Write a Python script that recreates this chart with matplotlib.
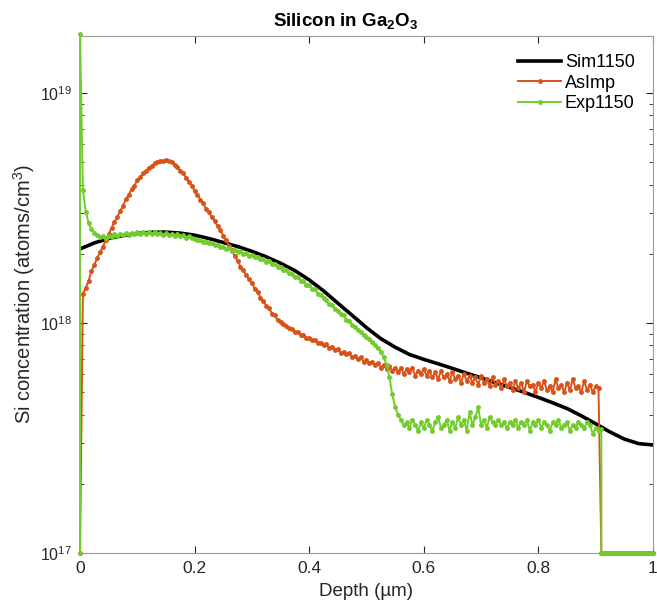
import matplotlib
matplotlib.use("Agg")
import matplotlib.pyplot as plt
import numpy as np

plt.rcParams['font.family'] = ['Liberation Sans', 'DejaVu Sans']
plt.rcParams['mathtext.fontset'] = 'custom'
plt.rcParams['mathtext.rm'] = 'Liberation Sans'
plt.rcParams['mathtext.bf'] = 'Liberation Sans:bold'

# Sim1150 (units of 1e17 atoms/cm3), depth step 0.025 um
sim_depth = [0.0, 0.025, 0.05, 0.075, 0.1, 0.125, 0.15, 0.175, 0.2, 0.225,
             0.25, 0.275, 0.3, 0.325, 0.35, 0.375, 0.4, 0.425, 0.45, 0.475,
             0.5, 0.525, 0.55, 0.575, 0.6, 0.625, 0.65, 0.675, 0.7, 0.725,
             0.75, 0.775, 0.8, 0.825, 0.85, 0.875, 0.9, 0.925, 0.95, 0.975, 1.0]
sim_val = [21.0, 22.3, 23.3, 24.0, 24.5, 24.8, 24.85, 24.6, 24.1, 23.3,
           22.4, 21.5, 20.5, 19.4, 18.2, 16.9, 15.4, 13.8, 12.2, 10.8,
           9.55, 8.55, 7.85, 7.3, 6.95, 6.65, 6.35, 6.05, 5.78, 5.5,
           5.25, 5.0, 4.75, 4.5, 4.25, 3.95, 3.65, 3.36, 3.13, 2.99, 2.95]

# AsImp, depth step 0.005 um starting at 0
asimp_val = [1.0, 13.4, 14.2, 15.3, 16.8, 17.9, 19.2, 20.3, 21.5, 22.9,
             24.3, 25.9, 27.6, 28.8, 30.7, 32.2, 34.6, 36.1, 38.2, 39.6,
             41.8, 43.0, 44.9, 45.8, 47.4, 48.1, 49.5, 49.9, 50.8, 50.6,
             51.2, 50.4, 50.1, 48.8, 47.9, 46.0, 44.8, 42.9, 41.2, 39.5,
             37.6, 36.2, 34.4, 33.1, 31.4, 30.3, 28.8, 27.9, 26.3, 25.4,
             24.0, 22.9, 21.6, 20.7, 19.5, 18.7, 17.6, 17.0, 16.1, 15.5,
             14.9, 14.1, 13.6, 12.9, 12.5, 11.9, 11.6, 11.0, 10.8, 10.3,
             10.1, 9.9, 9.7, 9.5, 9.4, 9.1, 9.1, 8.9, 8.9, 8.6,
             8.6, 8.4, 8.4, 8.2, 8.2, 8.0, 8.1, 7.8, 7.9, 7.6,
             7.7, 7.4, 7.5, 7.3, 7.4, 7.1, 7.2, 7.0, 7.1, 6.8,
             6.9, 6.7, 6.8, 6.6, 6.7, 6.4, 6.6, 6.3, 6.5, 6.2,
             6.4, 6.1, 6.4, 6.0, 6.3, 6.1, 6.4, 5.9, 6.2, 6.0,
             6.3, 5.9, 6.2, 5.8, 6.1, 5.7, 6.2, 5.8, 6.0, 5.6,
             6.1, 5.7, 5.9, 5.5, 6.0, 5.6, 5.9, 5.5, 5.8, 5.4,
             5.9, 5.5, 5.7, 5.3, 5.8, 5.4, 5.6, 5.2, 5.7, 5.3,
             5.5, 5.1, 5.6, 5.2, 5.5, 5.0, 5.6, 5.3, 5.4, 5.0,
             5.5, 5.2, 5.6, 5.1, 5.3, 5.0, 5.7, 5.2, 5.4, 5.0,
             5.5, 5.1, 5.7, 5.2, 5.3, 5.0, 5.6, 5.1, 5.4, 5.0,
             5.3, 5.2]

# Exp1150, depth step 0.005 um starting at 0
exp_val = [180.0, 38.0, 30.5, 27.2, 25.6, 24.6, 24.2, 23.7, 23.9, 23.5,
           24.0, 23.7, 24.3, 23.9, 24.4, 24.1, 24.6, 24.2, 24.7, 24.3,
           24.8, 24.4, 24.9, 24.5, 24.9, 24.3, 24.8, 24.4, 24.7, 24.1,
           24.6, 24.2, 24.5, 23.9, 24.3, 23.8, 24.1, 23.5, 23.8, 23.4,
           23.2, 23.0, 22.9, 22.6, 22.6, 22.2, 22.3, 21.8, 21.9, 21.4,
           21.5, 21.0, 21.1, 20.6, 20.8, 20.3, 20.5, 19.9, 20.1, 19.6,
           19.8, 19.3, 19.4, 18.9, 19.0, 18.5, 18.6, 18.0, 18.1, 17.5,
           17.6, 17.0, 17.0, 16.5, 16.4, 15.9, 15.8, 15.3, 15.2, 14.7,
           14.6, 14.1, 14.0, 13.4, 13.3, 12.8, 12.6, 12.1, 12.0, 11.5,
           11.3, 10.9, 10.8, 10.3, 10.2, 9.8, 9.6, 9.3, 9.1, 8.9,
           8.7, 8.5, 8.3, 8.0, 7.8, 7.5, 7.1, 6.6, 5.8, 4.9,
           4.3, 4.0, 3.8, 3.6, 3.7, 3.5, 3.8, 3.6, 3.4, 3.7,
           3.5, 3.8, 3.6, 3.4, 3.7, 3.9, 3.5, 3.6, 3.8, 3.4,
           3.7, 3.5, 3.9, 3.6, 3.8, 3.4, 4.1, 3.6, 3.9, 4.3,
           3.6, 3.8, 3.5, 3.9, 3.7, 3.6, 3.8, 3.6, 3.7, 3.5,
           3.7, 3.6, 3.8, 3.5, 3.7, 3.6, 3.8, 3.4, 3.7, 3.6,
           3.8, 3.5, 3.7, 3.6, 3.4, 3.7, 3.6, 3.8, 3.5, 3.6,
           3.7, 3.4, 3.6, 3.5, 3.7, 3.6, 3.5, 3.7, 3.6, 3.3,
           3.5, 3.4, 3.45]

# values past the end of the measured profiles sit at the axis floor
tail_depth = [0.91, 0.915, 0.92, 0.925, 0.93, 0.935, 0.94, 0.945, 0.95, 0.955,
              0.96, 0.965, 0.97, 0.975, 0.98, 0.985, 0.99, 0.995, 1.0]
tail_val = [1.0] * len(tail_depth)

asimp_depth = list(np.arange(len(asimp_val)) * 0.005)
exp_depth = list(np.arange(len(exp_val)) * 0.005)

orange = '#D95319'
green = '#72CC2C'
txt = '#262626'

fig = plt.figure(figsize=(6.57, 6.0), dpi=100)
ax = fig.add_axes([0.1218, 0.0783, 0.872, 0.8617])

scale = 1e17
ax.plot(sim_depth, np.array(sim_val) * scale, color='black', lw=2.6, label='Sim1150', zorder=2)
ax.plot(asimp_depth + tail_depth, np.array(asimp_val + tail_val) * scale, color=orange,
        lw=1.4, marker='.', ms=5, label='AsImp', zorder=3, clip_on=False)
# surface point of the measured profile starts at the floor too
ax.plot([0.0] + exp_depth + tail_depth, np.array([1.0] + exp_val + tail_val) * scale, color=green,
        lw=1.4, marker='.', ms=5, label='Exp1150', zorder=4, clip_on=False)

ax.set_yscale('log')
ax.set_xlim(0, 1)
ax.set_ylim(1e17, 1.77e19)
ax.set_xticks([0, 0.2, 0.4, 0.6, 0.8, 1])
ax.set_xticklabels(['0', '0.2', '0.4', '0.6', '0.8', '1'])
ax.set_yticks([1e17, 1e18, 1e19])
ax.tick_params(which='both', direction='in', top=True, right=True, colors=txt, pad=6)
ax.tick_params(axis='x', labelsize=12.5)
ax.tick_params(axis='y', labelsize=11.5)
ax.tick_params(which='major', length=5)
ax.tick_params(which='minor', length=3)
for s in ax.spines.values():
    s.set_color('#9a9a9a')
    s.set_linewidth(0.8)

ax.set_xlabel('Depth (µm)', fontsize=13.5, color=txt, labelpad=5)
ax.set_ylabel('Si concentration (atoms/cm$^3$)', fontsize=14.5, color=txt, labelpad=2)
ax.set_title(r'Silicon in $\mathbf{Ga_2O_3}$', fontsize=13.5, fontweight='bold',
             x=0.463, pad=7)

leg = ax.legend(loc='upper right', frameon=False, fontsize=13, handlelength=2.4,
                handletextpad=0.2, labelspacing=0.2, borderaxespad=0.6)

fig.savefig('out.png', dpi=100)
